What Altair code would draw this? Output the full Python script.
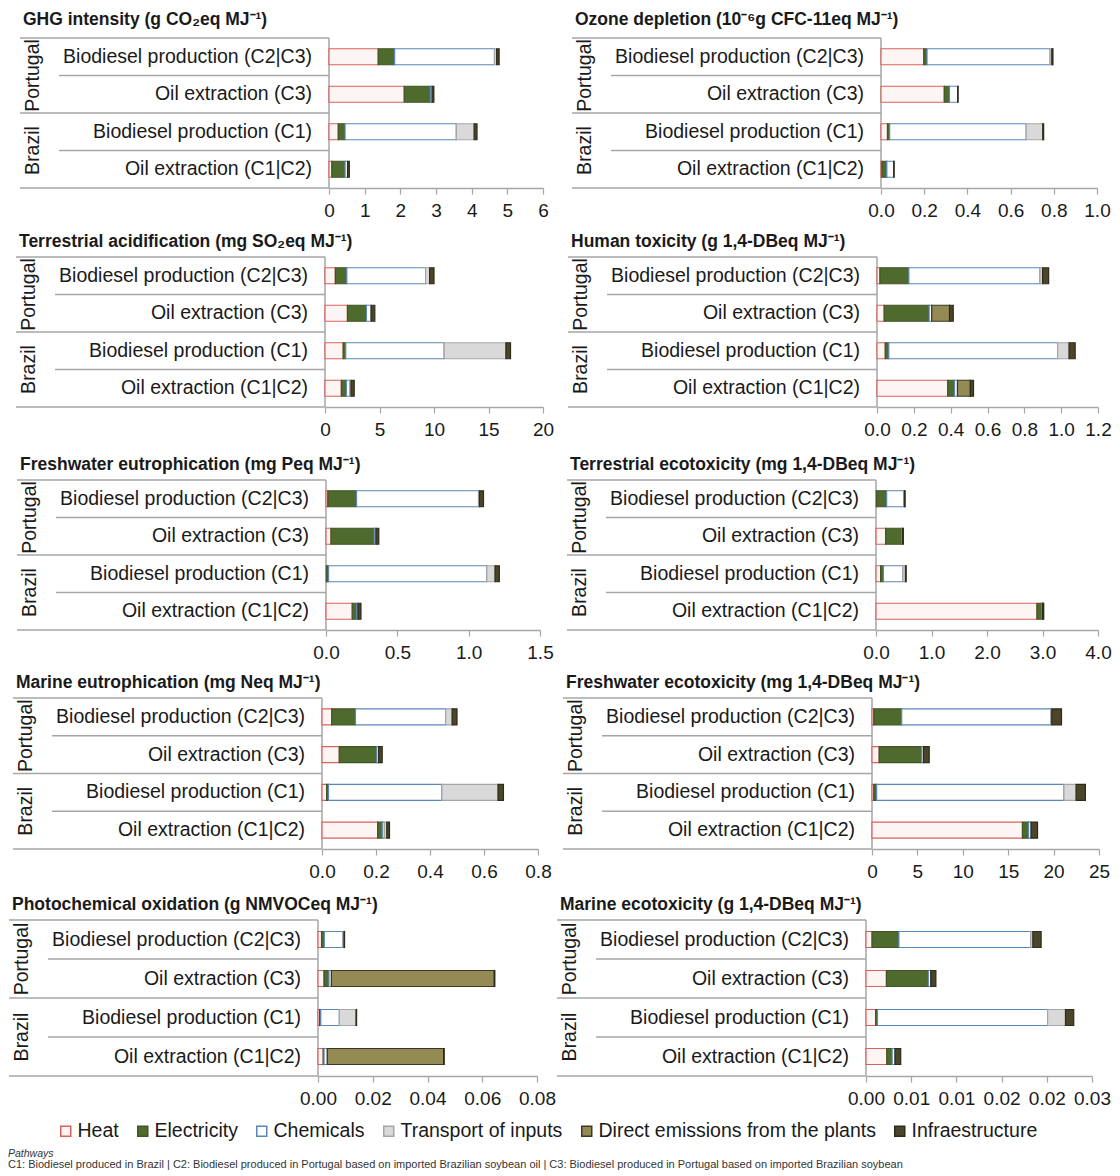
import altair as alt
import pandas as pd

FONT = "Liberation Sans, Arial, sans-serif"
GREY = "#a6a6a6"
TXT = "#1a1a1a"

COMPONENTS = ["Heat", "Electricity", "Chemicals", "Transport of inputs",
              "Direct emissions from the plants", "Infraestructure"]
FILLS = ["#fdf5f4", "#4f6a2d", "#ffffff", "#d9d9d9", "#948a54", "#4b4629"]
STROKES = ["#d9625d", "#3f5624", "#5a86b8", "#a6a6a6", "#3a3826", "#2e2b19"]

ROWS = ["Biodiesel production (C2|C3)", "Oil extraction (C3)",
        "Biodiesel production (C1)", "Oil extraction (C1|C2)"]
GROUPS = ["Portugal", "Brazil"]

# values per row: Heat, Electricity, Chemicals, Transport, Direct emissions, Infrastructure
GHG = [[1.38, 0.46, 2.80, 0.06, 0, 0.07],
       [2.11, 0.73, 0.05, 0, 0, 0.05],
       [0.26, 0.19, 3.12, 0.50, 0, 0.08],
       [0.08, 0.37, 0.07, 0, 0, 0.05]]
OZONE = [[0.198, 0.015, 0.570, 0.008, 0, 0.005],
         [0.293, 0.024, 0.038, 0, 0, 0.002],
         [0.030, 0.010, 0.632, 0.077, 0, 0.004],
         [0.005, 0.022, 0.032, 0, 0, 0.002]]
TACID = [[0.95, 1.05, 7.23, 0.37, 0, 0.40],
         [2.06, 1.74, 0.39, 0.05, 0, 0.33],
         [1.67, 0.23, 9.03, 5.67, 0, 0.42],
         [1.50, 0.46, 0.30, 0.13, 0, 0.29]]
HTOX = [[0.016, 0.157, 0.712, 0.014, 0, 0.033],
        [0.039, 0.244, 0.014, 0, 0.097, 0.020],
        [0.045, 0.019, 0.917, 0.062, 0, 0.033],
        [0.384, 0.037, 0.016, 0, 0.070, 0.017]]
FEUT = [[0.013, 0.201, 0.855, 0.007, 0, 0.028],
        [0.035, 0.303, 0.012, 0, 0, 0.020],
        [0.005, 0.013, 1.109, 0.058, 0, 0.030],
        [0.184, 0.030, 0.010, 0, 0, 0.021]]
TECO = [[0.013, 0.179, 0.307, 0.013, 0, 0.013],
        [0.173, 0.294, 0.013, 0, 0, 0.013],
        [0.083, 0.051, 0.352, 0.045, 0, 0.013],
        [2.90, 0.09, 0.012, 0, 0, 0.02]]
MEUT = [[0.036, 0.088, 0.334, 0.024, 0, 0.018],
        [0.064, 0.139, 0.007, 0, 0, 0.013],
        [0.017, 0.007, 0.420, 0.208, 0, 0.020],
        [0.206, 0.017, 0.008, 0.009, 0, 0.010]]
FECO = [[0.20, 3.07, 16.42, 0.11, 0, 1.07],
        [0.79, 4.68, 0.20, 0, 0, 0.63],
        [0.20, 0.31, 20.63, 1.34, 0, 1.02],
        [16.57, 0.67, 0.28, 0, 0, 0.71]]
PHOX = [[0.0013, 0.0010, 0.0068, 0.0004, 0, 0.0002],
        [0.0022, 0.0018, 0.0009, 0, 0.0595, 0.0002],
        [0.0006, 0.0004, 0.0068, 0.0061, 0, 0.0002],
        [0.0019, 0.0003, 0.0012, 0, 0.0425, 0.0002]]
MECO = [[0.00067, 0.00297, 0.01458, 0.00024, 0, 0.00091],
        [0.00226, 0.00463, 0.00028, 0, 0, 0.00056],
        [0.00107, 0.00020, 0.01882, 0.00198, 0, 0.00091],
        [0.00230, 0.00059, 0.00032, 0, 0, 0.00063]]

TITLES = {
    "GHG": "GHG intensity (g CO\u2082eq MJ\u207b\u00b9)",
    "OZ": "Ozone depletion (10\u207b\u2076g CFC-11eq MJ\u207b\u00b9)",
    "TA": "Terrestrial acidification (mg SO\u2082eq MJ\u207b\u00b9)",
    "HT": "Human toxicity (g 1,4-DBeq MJ\u207b\u00b9)",
    "FE": "Freshwater eutrophication (mg Peq MJ\u207b\u00b9)",
    "TE": "Terrestrial ecotoxicity (mg 1,4-DBeq MJ\u207b\u00b9)",
    "ME": "Marine eutrophication (mg Neq MJ\u207b\u00b9)",
    "FEC": "Freshwater ecotoxicity (mg 1,4-DBeq MJ\u207b\u00b9)",
    "PO": "Photochemical oxidation (g NMVOCeq MJ\u207b\u00b9)",
    "MEC": "Marine ecotoxicity (g 1,4-DBeq MJ\u207b\u00b9)",
}

TICKS_GHG = [0, 1, 2, 3, 4, 5, 6]
TICKS_OZ = [0, 0.2, 0.4, 0.6, 0.8, 1.0]
TICKS_TA = [0, 5, 10, 15, 20]
TICKS_HT = [0, 0.2, 0.4, 0.6, 0.8, 1.0, 1.2]
TICKS_FE = [0, 0.5, 1.0, 1.5]
TICKS_TE = [0, 1, 2, 3, 4]
TICKS_ME = [0, 0.2, 0.4, 0.6, 0.8]
TICKS_FEC = [0, 5, 10, 15, 20, 25]
TICKS_PO = [0, 0.02, 0.04, 0.06, 0.08]
TICKS_MEC = [0, 0.005, 0.01, 0.015, 0.02, 0.025]

FOOT_TITLE = "Pathways"
FOOT_TEXT = ("C1: Biodiesel produced in Brazil | C2: Biodiesel produced in Portugal based on imported "
             "Brazilian soybean oil | C3: Biodiesel produced in Portugal based on imported Brazilian soybean")

LEFT_ORIGIN = 8
RIGHT_ORIGIN = 556
LEFT_W = RIGHT_ORIGIN - LEFT_ORIGIN
RIGHT_W = 1112 - RIGHT_ORIGIN


def panel(key, values, ticks, fmt, x0, x1, ts, rows_h, side, title_dy=15, label_expr=None):
    origin = LEFT_ORIGIN if side == "left" else RIGHT_ORIGIN
    width = LEFT_W if side == "left" else RIGHT_W
    a, b = x0 - origin, x1 - origin
    height = ts + rows_h

    def y_enc(band_pos=None):
        kw = dict(scale=alt.Scale(domain=ROWS, range=[ts, ts + rows_h],
                                  paddingInner=0, paddingOuter=0), axis=None)
        if band_pos is not None:
            kw["bandPosition"] = band_pos
        return alt.Y("row:N", **kw)

    recs = []
    for r, row in enumerate(ROWS):
        for c, comp in enumerate(COMPONENTS):
            v = values[r][c]
            if v > 0:
                recs.append({"row": row, "component": comp, "value": v, "idx": c})
    df = pd.DataFrame(recs)

    axis_kw = dict(values=ticks, title=None, grid=False, labelFlush=False, labelOverlap=False,
                   labelBound=False, domainColor=GREY, domainWidth=1.5, tickColor=GREY,
                   tickSize=6, tickWidth=1.2, labelFontSize=19, labelFont=FONT,
                   labelColor=TXT, labelPadding=7)
    if label_expr:
        axis_kw["labelExpr"] = label_expr
    else:
        axis_kw["format"] = fmt

    leg = alt.Legend(orient="none", legendX=48, legendY=1113, direction="horizontal",
                     title=None, symbolType="square", symbolSize=100, symbolStrokeWidth=1.5,
                     labelFontSize=19.5, labelFont=FONT, labelColor=TXT, labelOffset=2,
                     columnPadding=14, labelLimit=400, padding=0)

    bars = alt.Chart(df).mark_bar(size=16, strokeWidth=1.2).encode(
        x=alt.X("value:Q", stack="zero",
                scale=alt.Scale(domain=[ticks[0], ticks[-1]], range=[a, b], nice=False, zero=True),
                axis=alt.Axis(**axis_kw)),
        y=y_enc(),
        fill=alt.Fill("component:N", scale=alt.Scale(domain=COMPONENTS, range=FILLS), legend=leg),
        stroke=alt.Stroke("component:N", scale=alt.Scale(domain=COMPONENTS, range=STROKES), legend=leg),
        order=alt.Order("idx:Q"),
    )

    rows_df = pd.DataFrame({"row": ROWS})
    labels = alt.Chart(rows_df).mark_text(align="right", baseline="middle", fontSize=19.5,
                                          font=FONT, color=TXT).encode(
        y=y_enc(), text="row:N", x=alt.value(a - 17))

    grp_df = pd.DataFrame({"g": GROUPS, "row": [ROWS[1], ROWS[3]]})
    groups = alt.Chart(grp_df).mark_text(angle=270, align="center", baseline="middle",
                                         fontSize=19.5, font=FONT, color=TXT).encode(
        y=y_enc(0), text="g:N", x=alt.value(a - 296))

    full_df = pd.DataFrame({"row": [ROWS[0], ROWS[2]]})
    part_df = pd.DataFrame({"row": [ROWS[1], ROWS[3]]})
    bot_df = pd.DataFrame({"row": [ROWS[3]]})
    rule_kw = dict(color=GREY, strokeWidth=1.5)
    full_rules = alt.Chart(full_df).mark_rule(**rule_kw).encode(
        y=y_enc(0), x=alt.value(a - 309), x2=alt.value(a))
    part_rules = alt.Chart(part_df).mark_rule(**rule_kw).encode(
        y=y_enc(0), x=alt.value(a - 270), x2=alt.value(a))
    bot_rule = alt.Chart(bot_df).mark_rule(**rule_kw).encode(
        y=y_enc(1), x=alt.value(a - 309), x2=alt.value(a))
    vline = alt.Chart(pd.DataFrame({"s": [0]})).mark_rule(**rule_kw).encode(
        x=alt.value(a), y=alt.value(ts), y2=alt.value(ts + rows_h))

    title = alt.Chart(pd.DataFrame({"t": [TITLES[key]]})).mark_text(
        align="left", baseline="middle", fontSize=17.5, fontWeight="bold", font=FONT,
        color=TXT).encode(text="t:N", x=alt.value(a - 306), y=alt.value(ts - title_dy))

    return alt.layer(full_rules, part_rules, bot_rule, vline, bars, labels, groups, title).properties(
        width=width, height=height)


MEC_EXPR = "format(datum.value + 0.000000001, '.2f')"

row1 = alt.hconcat(
    panel("GHG", GHG, TICKS_GHG, "d", 329, 543, 30, 150, "left", title_dy=18),
    panel("OZ", OZONE, TICKS_OZ, ".1f", 881, 1097, 30, 150, "right", title_dy=18), spacing=0)
row2 = alt.hconcat(
    panel("TA", TACID, TICKS_TA, "d", 325, 543, 37, 150, "left"),
    panel("HT", HTOX, TICKS_HT, ".1f", 877, 1098, 37, 150, "right"), spacing=0)
row3 = alt.hconcat(
    panel("FE", FEUT, TICKS_FE, ".1f", 326, 540, 41, 150, "left"),
    panel("TE", TECO, TICKS_TE, ".1f", 876, 1098, 41, 150, "right"), spacing=0)
row4 = alt.hconcat(
    panel("ME", MEUT, TICKS_ME, ".1f", 322, 538, 36, 151, "left"),
    panel("FEC", FECO, TICKS_FEC, "d", 872, 1099, 36, 151, "right"), spacing=0)
row5 = alt.hconcat(
    panel("PO", PHOX, TICKS_PO, ".2f", 318, 537, 39, 156, "left"),
    panel("MEC", MECO, TICKS_MEC, None, 866, 1092, 39, 156, "right", label_expr=MEC_EXPR), spacing=0)

foot1 = alt.Chart(pd.DataFrame({"t": [FOOT_TITLE]})).mark_text(
    align="left", baseline="middle", fontSize=10.5, fontStyle="italic", font=FONT, color="#333333"
).encode(text="t:N", x=alt.value(0), y=alt.value(46))
foot2 = alt.Chart(pd.DataFrame({"t": [FOOT_TEXT]})).mark_text(
    align="left", baseline="middle", fontSize=11, font=FONT, color="#333333"
).encode(text="t:N", x=alt.value(0), y=alt.value(57))
footer = alt.layer(foot1, foot2).properties(width=900, height=58)

chart = alt.vconcat(row1, row2, row3, row4, row5, footer, spacing=0).properties(
    padding={"left": 0, "top": 0, "right": 0, "bottom": 0}
).configure_view(stroke=None).configure_concat(spacing=0)

chart.save("out.html", embed_options={"renderer": "svg", "actions": False})
